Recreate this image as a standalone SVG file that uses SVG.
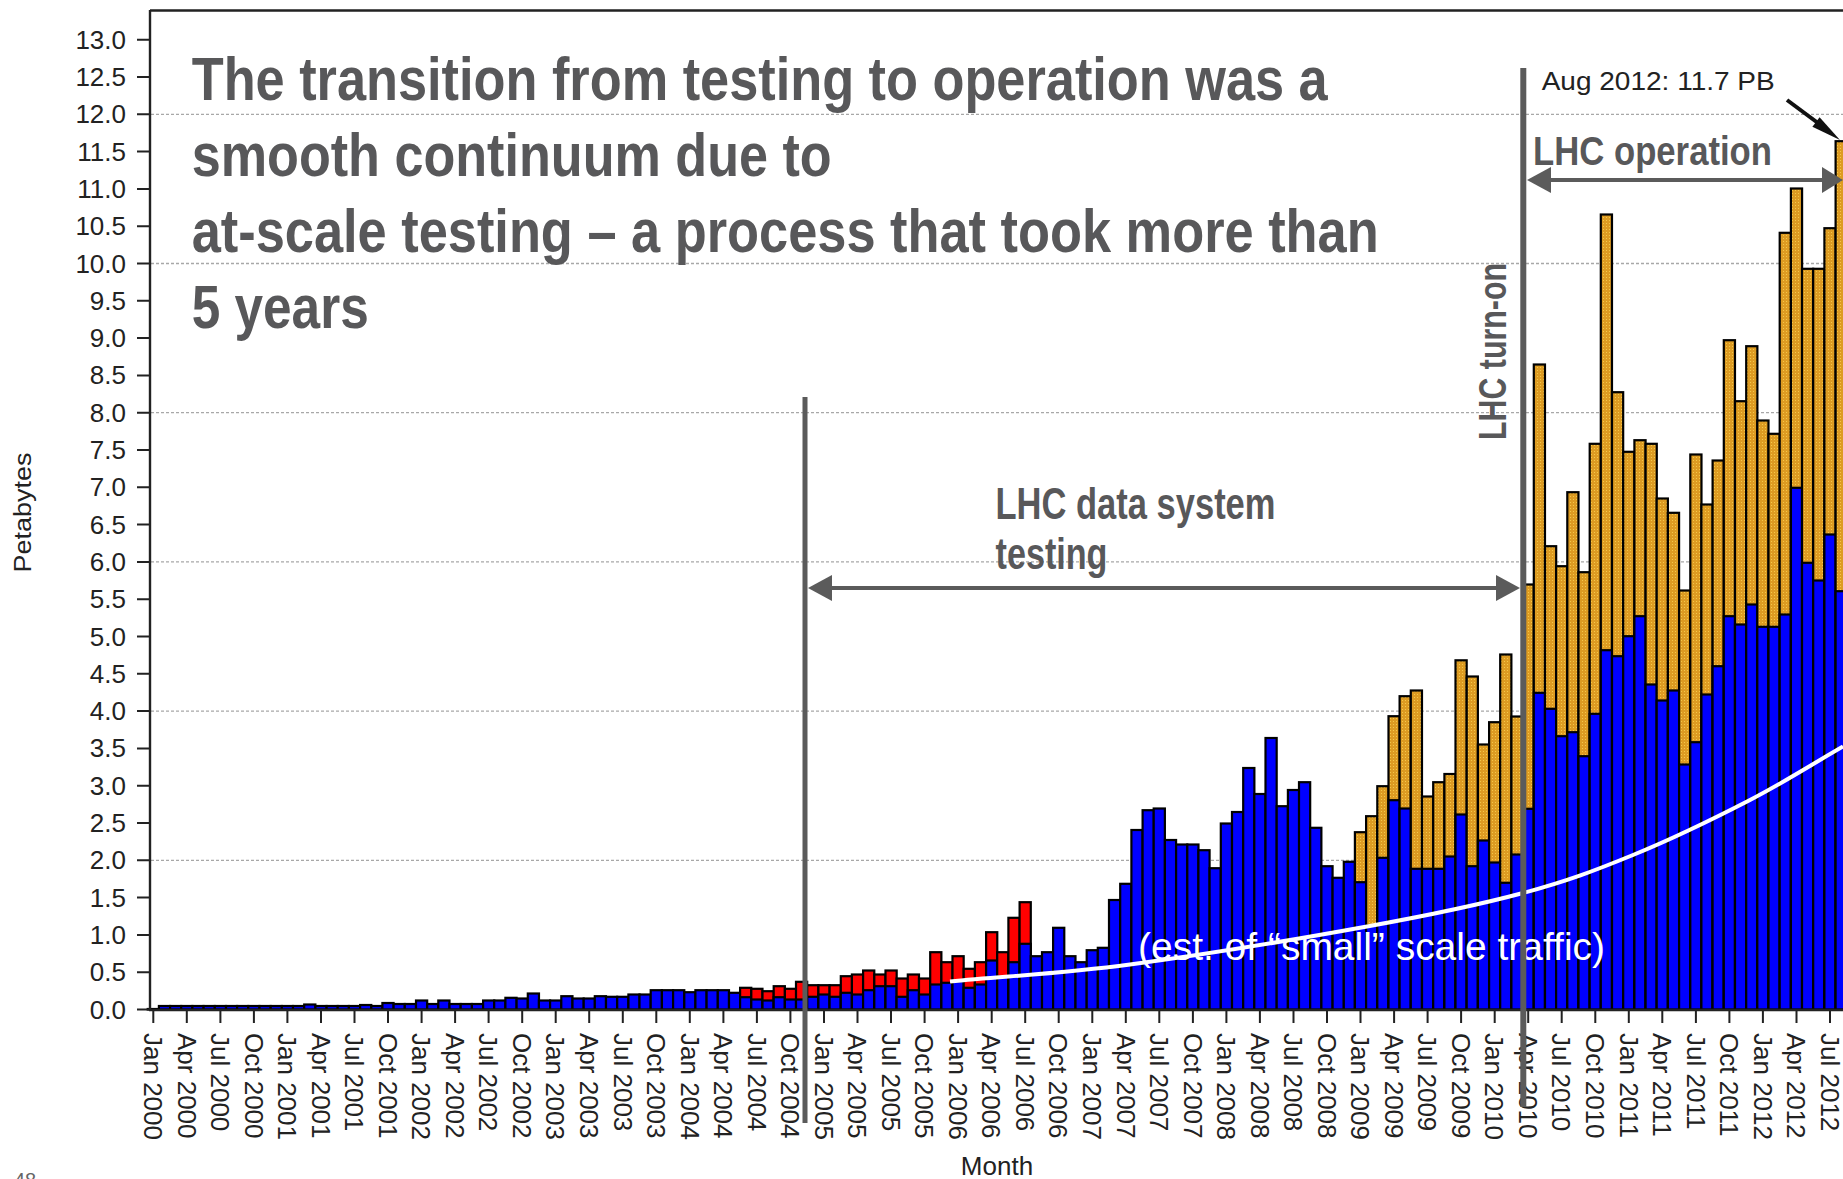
<svg xmlns="http://www.w3.org/2000/svg" width="1843" height="1179" viewBox="0 0 1843 1179">
<style>
.f{font-family:"Liberation Sans",Arial,Helvetica,sans-serif}
.yl{font-size:26px;fill:#222;text-anchor:end}
.xl{font-size:26px;fill:#222}
.t{font-weight:bold;fill:#58585a}
.b{fill:#0000ff}
.r{fill:#ff0000}
.o{fill:url(#dots)}
.grid{stroke:#a8a8a8;stroke-width:1.3;stroke-dasharray:3 2;fill:none}
.ann{stroke:#5b5b5b;fill:none}
</style>
<defs>
<pattern id="dots" width="3" height="3" patternUnits="userSpaceOnUse"><rect width="3" height="3" fill="#DD9B22"/><rect x="1" y="1" width="1" height="1" fill="#F4C84A"/></pattern>
</defs>
<rect width="1843" height="1179" fill="#fff"/>
<g id="grid">
<path class="grid" d="M151 860.3H1843M151 711.1H1843M151 561.9H1843M151 412.7H1843M151 263.5H1843M151 114.3H1843"/>
</g>
<g id="bars" stroke="#000" stroke-width="2.2">
<rect class="b" x="147.7" y="1009" width="11.18" height="0.5"/>
<rect class="b" x="158.9" y="1006" width="11.18" height="3.5"/>
<rect class="b" x="170.1" y="1006" width="11.18" height="3.5"/>
<rect class="b" x="181.2" y="1006" width="11.18" height="3.5"/>
<rect class="b" x="192.4" y="1006" width="11.18" height="3.5"/>
<rect class="b" x="203.6" y="1006" width="11.18" height="3.5"/>
<rect class="b" x="214.8" y="1006" width="11.18" height="3.5"/>
<rect class="b" x="226.0" y="1006" width="11.18" height="3.5"/>
<rect class="b" x="237.1" y="1006" width="11.18" height="3.5"/>
<rect class="b" x="248.3" y="1006" width="11.18" height="3.5"/>
<rect class="b" x="259.5" y="1006" width="11.18" height="3.5"/>
<rect class="b" x="270.7" y="1006" width="11.18" height="3.5"/>
<rect class="b" x="281.8" y="1006" width="11.18" height="3.5"/>
<rect class="b" x="293.0" y="1006" width="11.18" height="3.5"/>
<rect class="b" x="304.2" y="1004.5" width="11.18" height="5"/>
<rect class="b" x="315.4" y="1006" width="11.18" height="3.5"/>
<rect class="b" x="326.6" y="1006" width="11.18" height="3.5"/>
<rect class="b" x="337.7" y="1006" width="11.18" height="3.5"/>
<rect class="b" x="348.9" y="1006" width="11.18" height="3.5"/>
<rect class="b" x="360.1" y="1005" width="11.18" height="4.5"/>
<rect class="b" x="371.3" y="1006" width="11.18" height="3.5"/>
<rect class="b" x="382.4" y="1003" width="11.18" height="6.5"/>
<rect class="b" x="393.6" y="1004" width="11.18" height="5.5"/>
<rect class="b" x="404.8" y="1004" width="11.18" height="5.5"/>
<rect class="b" x="416.0" y="1000.5" width="11.18" height="9"/>
<rect class="b" x="427.2" y="1004" width="11.18" height="5.5"/>
<rect class="b" x="438.3" y="1000.5" width="11.18" height="9"/>
<rect class="b" x="449.5" y="1004" width="11.18" height="5.5"/>
<rect class="b" x="460.7" y="1004" width="11.18" height="5.5"/>
<rect class="b" x="471.9" y="1004" width="11.18" height="5.5"/>
<rect class="b" x="483.1" y="1000.5" width="11.18" height="9"/>
<rect class="b" x="494.2" y="1000.5" width="11.18" height="9"/>
<rect class="b" x="505.4" y="997.8" width="11.18" height="11.7"/>
<rect class="b" x="516.6" y="998.5" width="11.18" height="11"/>
<rect class="b" x="527.8" y="993.5" width="11.18" height="16"/>
<rect class="b" x="538.9" y="1000.5" width="11.18" height="9"/>
<rect class="b" x="550.1" y="1000.5" width="11.18" height="9"/>
<rect class="b" x="561.3" y="996.2" width="11.18" height="13.3"/>
<rect class="b" x="572.5" y="998.5" width="11.18" height="11"/>
<rect class="b" x="583.7" y="998.5" width="11.18" height="11"/>
<rect class="b" x="594.8" y="996.2" width="11.18" height="13.3"/>
<rect class="b" x="606.0" y="996.8" width="11.18" height="12.7"/>
<rect class="b" x="617.2" y="996.8" width="11.18" height="12.7"/>
<rect class="b" x="628.4" y="994.5" width="11.18" height="15"/>
<rect class="b" x="639.5" y="994.5" width="11.18" height="15"/>
<rect class="b" x="650.7" y="990.2" width="11.18" height="19.3"/>
<rect class="b" x="661.9" y="990.2" width="11.18" height="19.3"/>
<rect class="b" x="673.1" y="990.2" width="11.18" height="19.3"/>
<rect class="b" x="684.3" y="992.2" width="11.18" height="17.3"/>
<rect class="b" x="695.4" y="990.2" width="11.18" height="19.3"/>
<rect class="b" x="706.6" y="990.2" width="11.18" height="19.3"/>
<rect class="b" x="717.8" y="990.2" width="11.18" height="19.3"/>
<rect class="b" x="729.0" y="992.8" width="11.18" height="16.7"/>
<rect class="r" x="740.1" y="987.8" width="11.18" height="21.7"/><rect class="b" x="740.1" y="997.2" width="11.18" height="12.3"/>
<rect class="r" x="751.3" y="988.8" width="11.18" height="20.7"/><rect class="b" x="751.3" y="999.5" width="11.18" height="10"/>
<rect class="r" x="762.5" y="991.2" width="11.18" height="18.3"/><rect class="b" x="762.5" y="1000.5" width="11.18" height="9"/>
<rect class="r" x="773.7" y="986.2" width="11.18" height="23.3"/><rect class="b" x="773.7" y="997.2" width="11.18" height="12.3"/>
<rect class="r" x="784.9" y="988.8" width="11.18" height="20.7"/><rect class="b" x="784.9" y="999.5" width="11.18" height="10"/>
<rect class="r" x="796.0" y="981.8" width="11.18" height="27.7"/><rect class="b" x="796.0" y="999.5" width="11.18" height="10"/>
<rect class="r" x="807.2" y="985.2" width="11.18" height="24.3"/><rect class="b" x="807.2" y="996.8" width="11.18" height="12.7"/>
<rect class="r" x="818.4" y="985.2" width="11.18" height="24.3"/><rect class="b" x="818.4" y="994.5" width="11.18" height="15"/>
<rect class="r" x="829.6" y="985.2" width="11.18" height="24.3"/><rect class="b" x="829.6" y="996.8" width="11.18" height="12.7"/>
<rect class="r" x="840.8" y="976.2" width="11.18" height="33.3"/><rect class="b" x="840.8" y="992.8" width="11.18" height="16.7"/>
<rect class="r" x="851.9" y="974.5" width="11.18" height="35"/><rect class="b" x="851.9" y="994.5" width="11.18" height="15"/>
<rect class="r" x="863.1" y="970.5" width="11.18" height="39"/><rect class="b" x="863.1" y="990.2" width="11.18" height="19.3"/>
<rect class="r" x="874.3" y="974.5" width="11.18" height="35"/><rect class="b" x="874.3" y="986.2" width="11.18" height="23.3"/>
<rect class="r" x="885.5" y="970.5" width="11.18" height="39"/><rect class="b" x="885.5" y="986.2" width="11.18" height="23.3"/>
<rect class="r" x="896.6" y="978.5" width="11.18" height="31"/><rect class="b" x="896.6" y="996.8" width="11.18" height="12.7"/>
<rect class="r" x="907.8" y="974.5" width="11.18" height="35"/><rect class="b" x="907.8" y="990.2" width="11.18" height="19.3"/>
<rect class="r" x="919.0" y="978.5" width="11.18" height="31"/><rect class="b" x="919.0" y="994.5" width="11.18" height="15"/>
<rect class="r" x="930.2" y="952.2" width="11.18" height="57.3"/><rect class="b" x="930.2" y="984.5" width="11.18" height="25"/>
<rect class="r" x="941.4" y="962.2" width="11.18" height="47.3"/><rect class="b" x="941.4" y="982.8" width="11.18" height="26.7"/>
<rect class="r" x="952.5" y="956.2" width="11.18" height="53.3"/><rect class="b" x="952.5" y="981.2" width="11.18" height="28.3"/>
<rect class="r" x="963.7" y="968.8" width="11.18" height="40.7"/><rect class="b" x="963.7" y="987.8" width="11.18" height="21.7"/>
<rect class="r" x="974.9" y="962.2" width="11.18" height="47.3"/><rect class="b" x="974.9" y="984.5" width="11.18" height="25"/>
<rect class="r" x="986.1" y="932.2" width="11.18" height="77.3"/><rect class="b" x="986.1" y="960.5" width="11.18" height="49"/>
<rect class="r" x="997.2" y="952.2" width="11.18" height="57.3"/><rect class="b" x="997.2" y="976.5" width="11.18" height="33"/>
<rect class="r" x="1008.4" y="917.8" width="11.18" height="91.7"/><rect class="b" x="1008.4" y="962.2" width="11.18" height="47.3"/>
<rect class="r" x="1019.6" y="902.2" width="11.18" height="107.3"/><rect class="b" x="1019.6" y="943.8" width="11.18" height="65.7"/>
<rect class="b" x="1030.8" y="956.2" width="11.18" height="53.3"/>
<rect class="b" x="1042.0" y="952.2" width="11.18" height="57.3"/>
<rect class="b" x="1053.1" y="927.8" width="11.18" height="81.7"/>
<rect class="b" x="1064.3" y="956.2" width="11.18" height="53.3"/>
<rect class="b" x="1075.5" y="962.2" width="11.18" height="47.3"/>
<rect class="b" x="1086.7" y="950.2" width="11.18" height="59.3"/>
<rect class="b" x="1097.8" y="947.8" width="11.18" height="61.7"/>
<rect class="b" x="1109.0" y="900" width="11.18" height="109.5"/>
<rect class="b" x="1120.2" y="883.8" width="11.18" height="125.7"/>
<rect class="b" x="1131.4" y="830" width="11.18" height="179.5"/>
<rect class="b" x="1142.6" y="810.2" width="11.18" height="199.3"/>
<rect class="b" x="1153.7" y="808.5" width="11.18" height="201"/>
<rect class="b" x="1164.9" y="840" width="11.18" height="169.5"/>
<rect class="b" x="1176.1" y="844.5" width="11.18" height="165"/>
<rect class="b" x="1187.3" y="844.5" width="11.18" height="165"/>
<rect class="b" x="1198.4" y="850.2" width="11.18" height="159.3"/>
<rect class="b" x="1209.6" y="868.2" width="11.18" height="141.3"/>
<rect class="b" x="1220.8" y="823.5" width="11.18" height="186"/>
<rect class="b" x="1232.0" y="812" width="11.18" height="197.5"/>
<rect class="b" x="1243.2" y="768" width="11.18" height="241.5"/>
<rect class="b" x="1254.3" y="794" width="11.18" height="215.5"/>
<rect class="b" x="1265.5" y="738" width="11.18" height="271.5"/>
<rect class="b" x="1276.7" y="806.2" width="11.18" height="203.3"/>
<rect class="b" x="1287.9" y="790" width="11.18" height="219.5"/>
<rect class="b" x="1299.0" y="782.2" width="11.18" height="227.3"/>
<rect class="b" x="1310.2" y="827.8" width="11.18" height="181.7"/>
<rect class="b" x="1321.4" y="866.2" width="11.18" height="143.3"/>
<rect class="b" x="1332.6" y="877.8" width="11.18" height="131.7"/>
<rect class="b" x="1343.8" y="861.8" width="11.18" height="147.7"/>
<rect class="o" x="1354.9" y="832.2" width="11.18" height="177.3"/><rect class="b" x="1354.9" y="882.2" width="11.18" height="127.3"/>
<rect class="o" x="1366.1" y="816.2" width="11.18" height="193.3"/><rect class="b" x="1366.1" y="925.5" width="11.18" height="84"/>
<rect class="o" x="1377.3" y="786.2" width="11.18" height="223.3"/><rect class="b" x="1377.3" y="857.8" width="11.18" height="151.7"/>
<rect class="o" x="1388.5" y="716.2" width="11.18" height="293.3"/><rect class="b" x="1388.5" y="800.2" width="11.18" height="209.3"/>
<rect class="o" x="1399.6" y="696.2" width="11.18" height="313.3"/><rect class="b" x="1399.6" y="808.5" width="11.18" height="201"/>
<rect class="o" x="1410.8" y="690.5" width="11.18" height="319"/><rect class="b" x="1410.8" y="868.8" width="11.18" height="140.7"/>
<rect class="o" x="1422.0" y="796.5" width="11.18" height="213"/><rect class="b" x="1422.0" y="868.8" width="11.18" height="140.7"/>
<rect class="o" x="1433.2" y="782.2" width="11.18" height="227.3"/><rect class="b" x="1433.2" y="868.8" width="11.18" height="140.7"/>
<rect class="o" x="1444.4" y="774" width="11.18" height="235.5"/><rect class="b" x="1444.4" y="856.5" width="11.18" height="153"/>
<rect class="o" x="1455.5" y="660.3" width="11.18" height="349.2"/><rect class="b" x="1455.5" y="814.5" width="11.18" height="195"/>
<rect class="o" x="1466.7" y="676.5" width="11.18" height="333"/><rect class="b" x="1466.7" y="866.2" width="11.18" height="143.3"/>
<rect class="o" x="1477.9" y="744.5" width="11.18" height="265"/><rect class="b" x="1477.9" y="840.5" width="11.18" height="169"/>
<rect class="o" x="1489.1" y="722.2" width="11.18" height="287.3"/><rect class="b" x="1489.1" y="862.5" width="11.18" height="147"/>
<rect class="o" x="1500.2" y="654.5" width="11.18" height="355"/><rect class="b" x="1500.2" y="882.8" width="11.18" height="126.7"/>
<rect class="o" x="1511.4" y="716.5" width="11.18" height="293"/><rect class="b" x="1511.4" y="854.5" width="11.18" height="155"/>
<rect class="o" x="1522.6" y="584.5" width="11.18" height="425"/><rect class="b" x="1522.6" y="808.8" width="11.18" height="200.7"/>
<rect class="o" x="1533.8" y="364.5" width="11.18" height="645"/><rect class="b" x="1533.8" y="692.8" width="11.18" height="316.7"/>
<rect class="o" x="1545.0" y="546.2" width="11.18" height="463.3"/><rect class="b" x="1545.0" y="708.8" width="11.18" height="300.7"/>
<rect class="o" x="1556.1" y="566.2" width="11.18" height="443.3"/><rect class="b" x="1556.1" y="736.2" width="11.18" height="273.3"/>
<rect class="o" x="1567.3" y="492.2" width="11.18" height="517.3"/><rect class="b" x="1567.3" y="732.2" width="11.18" height="277.3"/>
<rect class="o" x="1578.5" y="572.2" width="11.18" height="437.3"/><rect class="b" x="1578.5" y="756.2" width="11.18" height="253.3"/>
<rect class="o" x="1589.7" y="443.8" width="11.18" height="565.7"/><rect class="b" x="1589.7" y="713.8" width="11.18" height="295.7"/>
<rect class="o" x="1600.8" y="214.5" width="11.18" height="795"/><rect class="b" x="1600.8" y="650.2" width="11.18" height="359.3"/>
<rect class="o" x="1612.0" y="392.2" width="11.18" height="617.3"/><rect class="b" x="1612.0" y="656.2" width="11.18" height="353.3"/>
<rect class="o" x="1623.2" y="451.8" width="11.18" height="557.7"/><rect class="b" x="1623.2" y="636.2" width="11.18" height="373.3"/>
<rect class="o" x="1634.4" y="440.2" width="11.18" height="569.3"/><rect class="b" x="1634.4" y="616.2" width="11.18" height="393.3"/>
<rect class="o" x="1645.6" y="443.8" width="11.18" height="565.7"/><rect class="b" x="1645.6" y="684.5" width="11.18" height="325"/>
<rect class="o" x="1656.7" y="498.5" width="11.18" height="511"/><rect class="b" x="1656.7" y="700.5" width="11.18" height="309"/>
<rect class="o" x="1667.9" y="512.8" width="11.18" height="496.7"/><rect class="b" x="1667.9" y="690.5" width="11.18" height="319"/>
<rect class="o" x="1679.1" y="590.5" width="11.18" height="419"/><rect class="b" x="1679.1" y="764.5" width="11.18" height="245"/>
<rect class="o" x="1690.3" y="454.5" width="11.18" height="555"/><rect class="b" x="1690.3" y="742.2" width="11.18" height="267.3"/>
<rect class="o" x="1701.4" y="504.5" width="11.18" height="505"/><rect class="b" x="1701.4" y="694.5" width="11.18" height="315"/>
<rect class="o" x="1712.6" y="460.5" width="11.18" height="549"/><rect class="b" x="1712.6" y="666.2" width="11.18" height="343.3"/>
<rect class="o" x="1723.8" y="340.2" width="11.18" height="669.3"/><rect class="b" x="1723.8" y="616.2" width="11.18" height="393.3"/>
<rect class="o" x="1735.0" y="401.2" width="11.18" height="608.3"/><rect class="b" x="1735.0" y="624.5" width="11.18" height="385"/>
<rect class="o" x="1746.2" y="346.2" width="11.18" height="663.3"/><rect class="b" x="1746.2" y="604.5" width="11.18" height="405"/>
<rect class="o" x="1757.3" y="420.5" width="11.18" height="589"/><rect class="b" x="1757.3" y="626.8" width="11.18" height="382.7"/>
<rect class="o" x="1768.5" y="433.8" width="11.18" height="575.7"/><rect class="b" x="1768.5" y="626.8" width="11.18" height="382.7"/>
<rect class="o" x="1779.7" y="232.8" width="11.18" height="776.7"/><rect class="b" x="1779.7" y="614.5" width="11.18" height="395"/>
<rect class="o" x="1790.9" y="188.5" width="11.18" height="821"/><rect class="b" x="1790.9" y="487.8" width="11.18" height="521.7"/>
<rect class="o" x="1802.0" y="268.8" width="11.18" height="740.7"/><rect class="b" x="1802.0" y="562.8" width="11.18" height="446.7"/>
<rect class="o" x="1813.2" y="268.8" width="11.18" height="740.7"/><rect class="b" x="1813.2" y="580.5" width="11.18" height="429"/>
<rect class="o" x="1824.4" y="228.2" width="11.18" height="781.3"/><rect class="b" x="1824.4" y="534.5" width="11.18" height="475"/>
<rect class="o" x="1835.6" y="141.2" width="11.18" height="868.3"/><rect class="b" x="1835.6" y="591.2" width="11.18" height="418.3"/>
</g>
<g id="axes" stroke="#222" fill="none">
<path stroke-width="2.4" d="M150 10.5H1843M150 10V1011M149 1010H1843"/>
<path stroke-width="2" d="M137 1009.5h13M137 972.2h13M137 934.9h13M137 897.6h13M137 860.3h13M137 823h13M137 785.7h13M137 748.4h13M137 711.1h13M137 673.8h13M137 636.5h13M137 599.2h13M137 561.9h13M137 524.6h13M137 487.3h13M137 450h13M137 412.7h13M137 375.4h13M137 338.1h13M137 300.8h13M137 263.5h13M137 226.2h13M137 188.9h13M137 151.6h13M137 114.3h13M137 77h13M137 39.7h13"/>
<path stroke-width="2" d="M153.3 1010v13M186.8 1010v13M220.4 1010v13M253.9 1010v13M287.4 1010v13M321 1010v13M354.5 1010v13M388 1010v13M421.6 1010v13M455.1 1010v13M488.6 1010v13M522.2 1010v13M555.7 1010v13M589.2 1010v13M622.8 1010v13M656.3 1010v13M689.8 1010v13M723.4 1010v13M756.9 1010v13M790.4 1010v13M824 1010v13M857.5 1010v13M891 1010v13M924.6 1010v13M958.1 1010v13M991.7 1010v13M1025.2 1010v13M1058.7 1010v13M1092.3 1010v13M1125.8 1010v13M1159.3 1010v13M1192.9 1010v13M1226.4 1010v13M1259.9 1010v13M1293.5 1010v13M1327 1010v13M1360.5 1010v13M1394.1 1010v13M1427.6 1010v13M1461.1 1010v13M1494.7 1010v13M1528.2 1010v13M1561.7 1010v13M1595.3 1010v13M1628.8 1010v13M1662.3 1010v13M1695.9 1010v13M1729.4 1010v13M1762.9 1010v13M1796.5 1010v13M1830 1010v13"/>
</g>
<g id="y-labels" class="f yl">
<text x="126" y="1018.5">0.0</text><text x="126" y="981.2">0.5</text><text x="126" y="943.9">1.0</text><text x="126" y="906.6">1.5</text><text x="126" y="869.3">2.0</text><text x="126" y="832">2.5</text><text x="126" y="794.7">3.0</text><text x="126" y="757.4">3.5</text><text x="126" y="720.1">4.0</text><text x="126" y="682.8">4.5</text><text x="126" y="645.5">5.0</text><text x="126" y="608.2">5.5</text><text x="126" y="570.9">6.0</text><text x="126" y="533.6">6.5</text><text x="126" y="496.3">7.0</text><text x="126" y="459">7.5</text><text x="126" y="421.7">8.0</text><text x="126" y="384.4">8.5</text><text x="126" y="347.1">9.0</text><text x="126" y="309.8">9.5</text><text x="126" y="272.5">10.0</text><text x="126" y="235.2">10.5</text><text x="126" y="197.9">11.0</text><text x="126" y="160.6">11.5</text><text x="126" y="123.3">12.0</text><text x="126" y="86">12.5</text><text x="126" y="48.7">13.0</text>
</g>
<g id="x-labels" class="f xl">
<text transform="translate(144 1033) rotate(90)">Jan 2000</text>
<text transform="translate(177.5 1033) rotate(90)">Apr 2000</text>
<text transform="translate(211.1 1033) rotate(90)">Jul 2000</text>
<text transform="translate(244.6 1033) rotate(90)">Oct 2000</text>
<text transform="translate(278.1 1033) rotate(90)">Jan 2001</text>
<text transform="translate(311.7 1033) rotate(90)">Apr 2001</text>
<text transform="translate(345.2 1033) rotate(90)">Jul 2001</text>
<text transform="translate(378.7 1033) rotate(90)">Oct 2001</text>
<text transform="translate(412.3 1033) rotate(90)">Jan 2002</text>
<text transform="translate(445.8 1033) rotate(90)">Apr 2002</text>
<text transform="translate(479.3 1033) rotate(90)">Jul 2002</text>
<text transform="translate(512.9 1033) rotate(90)">Oct 2002</text>
<text transform="translate(546.4 1033) rotate(90)">Jan 2003</text>
<text transform="translate(579.9 1033) rotate(90)">Apr 2003</text>
<text transform="translate(613.5 1033) rotate(90)">Jul 2003</text>
<text transform="translate(647 1033) rotate(90)">Oct 2003</text>
<text transform="translate(680.5 1033) rotate(90)">Jan 2004</text>
<text transform="translate(714.1 1033) rotate(90)">Apr 2004</text>
<text transform="translate(747.6 1033) rotate(90)">Jul 2004</text>
<text transform="translate(781.1 1033) rotate(90)">Oct 2004</text>
<text transform="translate(814.7 1033) rotate(90)">Jan 2005</text>
<text transform="translate(848.2 1033) rotate(90)">Apr 2005</text>
<text transform="translate(881.7 1033) rotate(90)">Jul 2005</text>
<text transform="translate(915.3 1033) rotate(90)">Oct 2005</text>
<text transform="translate(948.8 1033) rotate(90)">Jan 2006</text>
<text transform="translate(982.4 1033) rotate(90)">Apr 2006</text>
<text transform="translate(1015.9 1033) rotate(90)">Jul 2006</text>
<text transform="translate(1049.4 1033) rotate(90)">Oct 2006</text>
<text transform="translate(1083 1033) rotate(90)">Jan 2007</text>
<text transform="translate(1116.5 1033) rotate(90)">Apr 2007</text>
<text transform="translate(1150 1033) rotate(90)">Jul 2007</text>
<text transform="translate(1183.6 1033) rotate(90)">Oct 2007</text>
<text transform="translate(1217.1 1033) rotate(90)">Jan 2008</text>
<text transform="translate(1250.6 1033) rotate(90)">Apr 2008</text>
<text transform="translate(1284.2 1033) rotate(90)">Jul 2008</text>
<text transform="translate(1317.7 1033) rotate(90)">Oct 2008</text>
<text transform="translate(1351.2 1033) rotate(90)">Jan 2009</text>
<text transform="translate(1384.8 1033) rotate(90)">Apr 2009</text>
<text transform="translate(1418.3 1033) rotate(90)">Jul 2009</text>
<text transform="translate(1451.8 1033) rotate(90)">Oct 2009</text>
<text transform="translate(1485.4 1033) rotate(90)">Jan 2010</text>
<text transform="translate(1518.9 1033) rotate(90)">Apr 2010</text>
<text transform="translate(1552.4 1033) rotate(90)">Jul 2010</text>
<text transform="translate(1586 1033) rotate(90)">Oct 2010</text>
<text transform="translate(1619.5 1033) rotate(90)">Jan 2011</text>
<text transform="translate(1653 1033) rotate(90)">Apr 2011</text>
<text transform="translate(1686.6 1033) rotate(90)">Jul 2011</text>
<text transform="translate(1720.1 1033) rotate(90)">Oct 2011</text>
<text transform="translate(1753.6 1033) rotate(90)">Jan 2012</text>
<text transform="translate(1787.2 1033) rotate(90)">Apr 2012</text>
<text transform="translate(1820.7 1033) rotate(90)">Jul 2012</text>
</g>
<g id="axis-titles" class="f" fill="#222">
<text transform="translate(30.5 512.5) rotate(-90)" font-size="23" text-anchor="middle" textLength="120" lengthAdjust="spacingAndGlyphs">Petabytes</text>
<text x="997" y="1175" font-size="26" text-anchor="middle">Month</text>
<text x="14" y="1187" font-size="20" fill="#666">48</text>
</g>
<g id="small-scale-curve">
<path d="M950 981.5C1010 975.8 1060.5 973.7 1130 964.5C1199.5 955.3 1301.5 938.4 1367 926.5C1432.5 914.6 1478.7 904.9 1523 893C1567.3 881.1 1595.2 870.5 1633 855C1670.8 839.5 1715 818.1 1750 800C1785 781.9 1812 764.3 1843 746.5" fill="none" stroke="#fff" stroke-width="4"/>
<text class="f" x="1138" y="960" font-size="39" fill="#fff" textLength="467" lengthAdjust="spacingAndGlyphs">(est. of “small” scale traffic)</text>
</g>
<g id="markers">
<line class="ann" x1="805" y1="397" x2="805" y2="1123" stroke-width="5"/>
<line class="ann" x1="1523.3" y1="68" x2="1523.3" y2="1107" stroke-width="6"/>
</g>
<g id="connectors">
<line class="ann" x1="828" y1="588" x2="1500" y2="588" stroke-width="4"/>
<polygon points="808,588 832,575 832,601" fill="#5b5b5b"/>
<polygon points="1520,588 1496,575 1496,601" fill="#5b5b5b"/>
<line class="ann" x1="1546" y1="180" x2="1826" y2="180" stroke-width="4"/>
<polygon points="1527,180 1551,167 1551,193" fill="#5b5b5b"/>
<polygon points="1843,180 1822,167 1822,193" fill="#5b5b5b"/>
<line x1="1787" y1="100" x2="1822" y2="126" stroke="#111" stroke-width="4"/>
<polygon points="1840,140 1812.4,126.8 1819.6,117.2" fill="#111"/>
</g>
<g id="title" class="f t">
<text x="191.7" y="100" font-size="62" textLength="1136" lengthAdjust="spacingAndGlyphs">The transition from testing to operation was a</text>
<text x="191.7" y="176" font-size="62" textLength="640" lengthAdjust="spacingAndGlyphs">smooth continuum due to</text>
<text x="191.7" y="252" font-size="62" textLength="1187" lengthAdjust="spacingAndGlyphs">at-scale testing – a process that took more than</text>
<text x="191.7" y="328" font-size="62" textLength="177" lengthAdjust="spacingAndGlyphs">5 years</text>
</g>
<g id="labels" class="f">
<text class="t" x="995.5" y="519" font-size="44" textLength="280" lengthAdjust="spacingAndGlyphs">LHC data system</text>
<text class="t" x="995.5" y="569" font-size="44" textLength="112" lengthAdjust="spacingAndGlyphs">testing</text>
<text class="t" x="1533" y="165" font-size="40" textLength="239" lengthAdjust="spacingAndGlyphs">LHC operation</text>
<text class="t" transform="translate(1506 440) rotate(-90)" font-size="39" textLength="177" lengthAdjust="spacingAndGlyphs">LHC turn-on</text>
<text x="1541.7" y="90" font-size="26" fill="#222" textLength="233" lengthAdjust="spacingAndGlyphs">Aug 2012: 11.7 PB</text>
</g>
</svg>
